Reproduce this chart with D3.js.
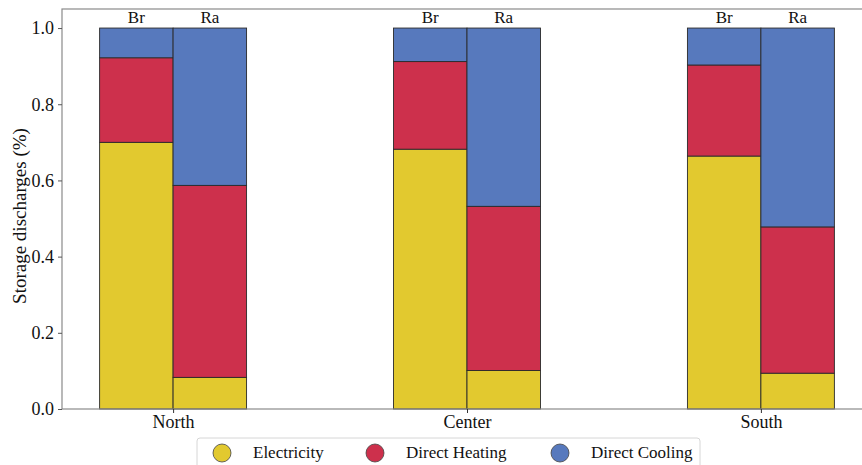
<!DOCTYPE html>
<html>
<head>
<meta charset="utf-8">
<script src="https://cdn.jsdelivr.net/npm/d3@7"></script>
<style>
  html, body { margin: 0; padding: 0; background: #fff; }
  svg { display: block; }
  svg text { font-family: "Liberation Serif", "Times New Roman", "DejaVu Serif", serif !important; }
</style>
</head>
<body>
<svg id="chart" width="862" height="465"></svg>
<script>
// Regions on the x axis and the two cases drawn side by side in each
const regions = ["North", "Center", "South"];
const cases = ["Br", "Ra"];

// Share of storage discharges per use, [Br, Ra] for each region
const electricity   = [[0.700, 0.083], [0.682, 0.101], [0.664, 0.094]];
const directHeating = [[0.222, 0.504], [0.230, 0.431], [0.239, 0.384]];
const directCooling = [[0.078, 0.413], [0.088, 0.468], [0.097, 0.522]];

const seriesNames = ["Electricity", "Direct Heating", "Direct Cooling"];
const seriesColors = ["#e2c92f", "#cd304c", "#5779bd"];
const yTicks = [0.0, 0.2, 0.4, 0.6, 0.8, 1.0];

const svg = d3.select("#chart");
const plotL = 62, plotR = 872, plotT = 9, plotB = 409;

const x = d3.scaleLinear().domain([-0.378, 2.378]).range([plotL, plotR]);
const y = d3.scaleLinear().domain([0, 1.05]).range([plotB, plotT]);
const barW = 0.25;

// Build stacked rows: one per region/case
const rows = [];
regions.forEach((r, i) => {
  cases.forEach((c, j) => {
    rows.push({
      region: r, idx: i, caseName: c, side: j,
      "Electricity": electricity[i][j],
      "Direct Heating": directHeating[i][j],
      "Direct Cooling": directCooling[i][j]
    });
  });
});
const stacked = d3.stack().keys(seriesNames)(rows);

const g = svg.append("g");
stacked.forEach((layer, k) => {
  g.selectAll(null).data(layer).enter().append("rect")
    .attr("x", d => x(d.data.idx + (d.data.side === 0 ? -barW : 0)))
    .attr("width", d => x(barW) - x(0))
    .attr("y", d => y(d[1]))
    .attr("height", d => y(d[0]) - y(d[1]))
    .attr("fill", seriesColors[k])
    .attr("stroke", "#2a2a2a")
    .attr("stroke-width", 0.9);
});

// Case labels above each bar
g.selectAll(null).data(rows).enter().append("text")
  .attr("x", d => x(d.idx + (d.side === 0 ? -barW / 2 : barW / 2)))
  .attr("y", 23)
  .attr("text-anchor", "middle")
  .attr("font-size", 17)
  .attr("fill", "#111")
  .text(d => d.caseName);

// Axes frame
svg.append("rect")
  .attr("x", plotL).attr("y", plotT)
  .attr("width", plotR - plotL).attr("height", plotB - plotT)
  .attr("fill", "none").attr("stroke", "#8a8a8a").attr("stroke-width", 1.2);

// Y axis
const yAxis = d3.axisLeft(y).tickValues(yTicks).tickFormat(d3.format(".1f")).tickSize(4).tickPadding(4);
const ya = svg.append("g").attr("transform", `translate(${plotL},0)`).call(yAxis);
ya.select(".domain").remove();
ya.selectAll(".tick line").attr("stroke", "#555");
ya.selectAll(".tick text").attr("font-size", 18).attr("fill", "#111");

// X axis
const xAxis = d3.axisBottom(x).tickValues([0, 1, 2]).tickFormat(i => regions[i]).tickSize(4).tickPadding(2);
const xa = svg.append("g").attr("transform", `translate(0,${plotB})`).call(xAxis);
xa.select(".domain").remove();
xa.selectAll(".tick line").attr("stroke", "#333");
xa.selectAll(".tick text").attr("font-size", 18).attr("fill", "#111");

// Y axis title
svg.append("text")
  .attr("transform", `translate(26,${(plotT + plotB) / 2 + 7}) rotate(-90)`)
  .attr("text-anchor", "middle")
  .attr("font-size", 19)
  .attr("fill", "#111")
  .text("Storage discharges (%)");

// Legend
const lg = svg.append("g");
lg.append("rect")
  .attr("x", 197).attr("y", 438).attr("width", 503).attr("height", 40)
  .attr("rx", 3)
  .attr("fill", "#fff").attr("stroke", "#d6d6d6").attr("stroke-width", 1);
const legendX = [222, 375, 560];
seriesNames.forEach((name, k) => {
  lg.append("circle")
    .attr("cx", legendX[k]).attr("cy", 453).attr("r", 9)
    .attr("fill", seriesColors[k]).attr("stroke", "#444").attr("stroke-width", 0.8);
  lg.append("text")
    .attr("x", legendX[k] + 31).attr("y", 458)
    .attr("font-size", 17)
    .attr("fill", "#111")
    .text(name);
});
</script>
</body>
</html>
